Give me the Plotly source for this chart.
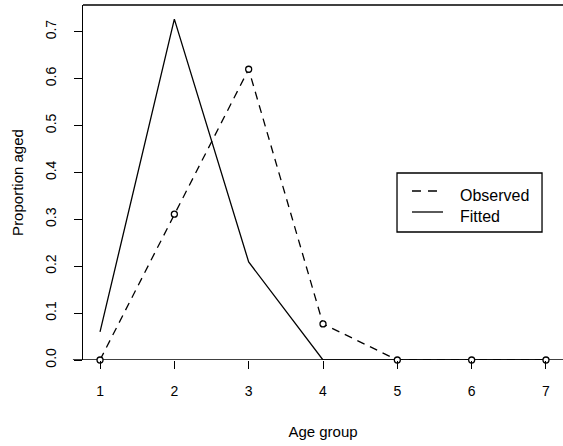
import plotly.graph_objects as go

age_groups = [1, 2, 3, 4, 5, 6, 7]
observed = [0.0, 0.311, 0.620, 0.077, 0.0, 0.0, 0.0]
fitted = [0.060, 0.727, 0.209, 0.0, 0.0, 0.0, 0.0]
y_ticks = [0.0, 0.1, 0.2, 0.3, 0.4, 0.5, 0.6, 0.7]
y_tick_labels = ["0.0", "0.1", "0.2", "0.3", "0.4", "0.5", "0.6", "0.7"]
legend_labels = ["Observed", "Fitted"]

FONT = "Liberation Sans, Arial, sans-serif"
TICK_FS = 14
TITLE_FS = 15
LEG_FS = 16
LW = 1.3

fig = go.Figure()
fig.add_trace(go.Scatter(
    x=age_groups, y=observed, mode="lines", name=legend_labels[0],
    line=dict(color="black", width=LW, dash="8px,6px"),
    cliponaxis=False, showlegend=False,
))
fig.add_trace(go.Scatter(
    x=age_groups, y=fitted, mode="lines", name=legend_labels[1],
    line=dict(color="black", width=LW),
    cliponaxis=False, showlegend=False,
))
fig.add_trace(go.Scatter(
    x=age_groups, y=observed, mode="markers", name="Observed points",
    showlegend=False,
    marker=dict(symbol="circle", size=6, color="white",
                line=dict(color="black", width=LW)),
    cliponaxis=False,
))

# horizontal zero line extending a little left of the frame
fig.add_shape(type="line", xref="paper", yref="y", x0=-0.021, x1=1.0, y0=0, y1=0,
              line=dict(color="black", width=LW), layer="below")
# top frame line
fig.add_shape(type="line", xref="paper", yref="paper", x0=0, x1=1.0, y0=1, y1=1,
              line=dict(color="black", width=LW))

# legend box (R-style legend)
fig.add_shape(type="rect", xref="paper", yref="paper",
              x0=0.6542, x1=0.9563, y0=0.3606, y1=0.5268,
              line=dict(color="black", width=LW), fillcolor="white", layer="above")
fig.add_shape(type="line", xref="paper", yref="paper", x0=0.6854, x1=0.75,
              y0=0.4761, y1=0.4761, line=dict(color="black", width=LW, dash="9px,7px"))
fig.add_shape(type="line", xref="paper", yref="paper", x0=0.6854, x1=0.75,
              y0=0.4169, y1=0.4169, line=dict(color="black", width=LW))
fig.add_annotation(xref="paper", yref="paper", x=0.78125, y=0.4620, text=legend_labels[0],
                   showarrow=False, xanchor="left", yanchor="middle",
                   font=dict(size=LEG_FS, family=FONT, color="black"))
fig.add_annotation(xref="paper", yref="paper", x=0.78125, y=0.4056, text=legend_labels[1],
                   showarrow=False, xanchor="left", yanchor="middle",
                   font=dict(size=LEG_FS, family=FONT, color="black"))

fig.update_layout(
    width=563, height=446,
    margin=dict(l=83, r=0, t=5, b=86, autoexpand=False),
    paper_bgcolor="white", plot_bgcolor="white",
    font=dict(family=FONT, size=TICK_FS, color="black"),
    showlegend=False,
    xaxis=dict(
        range=[0.771, 7.229], tickmode="array", tickvals=age_groups,
        ticktext=[str(a) for a in age_groups],
        showgrid=False, zeroline=False, showline=False, automargin=False,
        ticks="outside", ticklen=8, tickwidth=LW, tickcolor="black",
        ticklabelstandoff=10,
        title=dict(text="Age group", standoff=28, font=dict(size=TITLE_FS)),
    ),
    yaxis=dict(
        range=[0, 0.757], tickmode="array", tickvals=y_ticks, ticktext=y_tick_labels,
        tickangle=-90, automargin=False,
        showgrid=False, zeroline=False, showline=True, linecolor="black", linewidth=LW,
        ticks="outside", ticklen=8, tickwidth=LW, tickcolor="black",
        ticklabelstandoff=12,
        title=dict(text="Proportion aged", standoff=16, font=dict(size=TITLE_FS)),
    ),
)

fig.write_html("out.html", config={"displayModeBar": False},
               post_script="document.body.style.margin='0';")
